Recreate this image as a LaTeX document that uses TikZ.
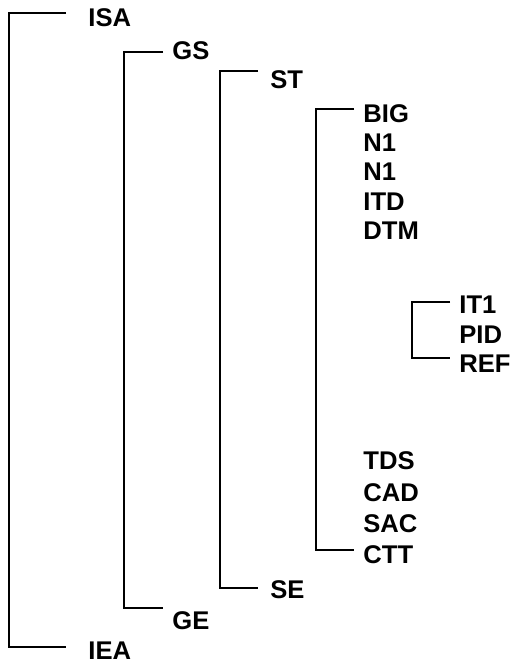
\documentclass[tikz,border=0pt]{standalone}
\usepackage{fontspec}
\setmainfont{Liberation Sans}
\usepackage{tikz}
\usetikzlibrary{calc}
\definecolor{my_black}{HTML}{000000}

\begin{document}
\begin{tikzpicture}[
    x=0.5pt, y=-0.5pt,
    lbl/.style={anchor=west, inner sep=0pt, text=my_black,
        font=\fontsize{12.8}{15}\selectfont\bfseries},
    bracket/.style={draw=my_black, line width=1pt}
]

% Page frame (pixel units, y grows downwards)
\useasboundingbox (0,0) rectangle (514,666);

% Outer level: ISA ... IEA
\node[lbl] (isa) at (88,17.5) {ISA};
\node[lbl] (iea) at (88,651) {IEA};

% Second level: GS ... GE
\node[lbl] (gs) at (172,51) {GS};
\node[lbl] (ge) at (172,621) {GE};

% Third level: ST ... SE
\node[lbl] (st) at (270,79.5) {ST};
\node[lbl] (se) at (270,590) {SE};

% Fourth level: top list
\node[lbl] (big) at (363,113.3) {BIG};
\node[lbl] (nA)  at (363,142.5) {N1};
\node[lbl] (nB)  at (363,171.8) {N1};
\node[lbl] (itd) at (363,201.5) {ITD};
\node[lbl] (dtm) at (363,231)   {DTM};

% Fifth level: small group
\node[lbl] (itA) at (459,305)   {IT1};
\node[lbl] (pid) at (459,334.5) {PID};
\node[lbl] (ref) at (459,364)   {REF};

% Fourth level: bottom list
\node[lbl] (tds) at (363,461)   {TDS};
\node[lbl] (cad) at (363,492.3) {CAD};
\node[lbl] (sac) at (363,523.6) {SAC};
\node[lbl] (ctt) at (363,555)   {CTT};

% Brackets joining the first and last entry of each level
\draw[bracket] ($(isa.west)+(-22,-4.5)$) -- ++(-57,0) |- ($(iea.west)+(-22,-4)$);
\draw[bracket] ($(gs.west)+(-9,1)$) -- ++(-39,0) |- ($(ge.west)+(-9,-13)$);
\draw[bracket] ($(st.west)+(-12,-9)$) -- ++(-38,0) |- ($(se.west)+(-12,-2)$);
\draw[bracket] ($(big.west)+(-9,-4)$) -- ++(-38,0) |- ($(ctt.west)+(-9,-5)$);
\draw[bracket] ($(itA.west)+(-9,-3.3)$) -- ++(-38,0) |- ($(ref.west)+(-9,-5.7)$);

\end{tikzpicture}
\end{document}
